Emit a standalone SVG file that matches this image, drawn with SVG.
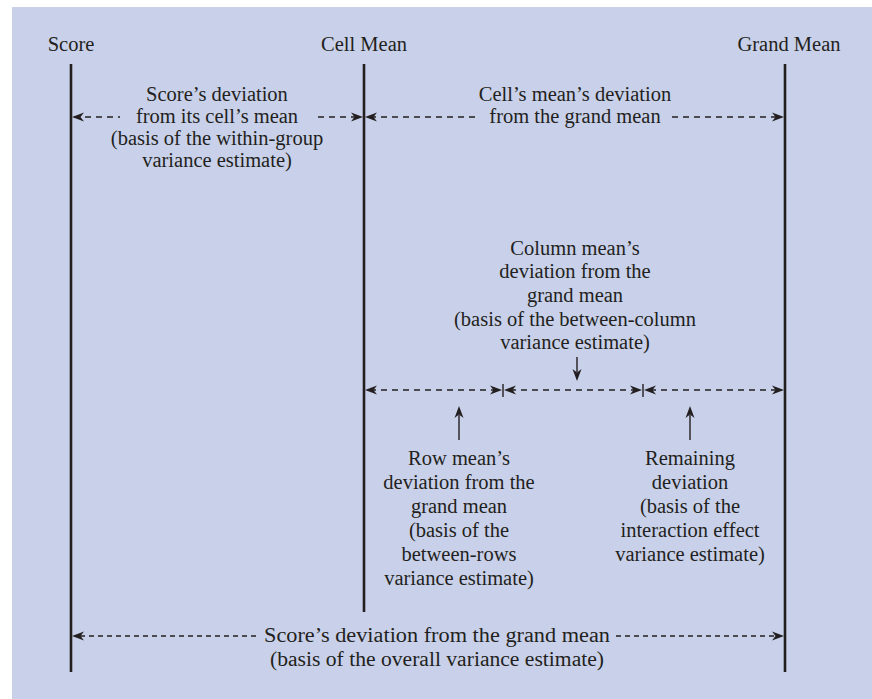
<svg xmlns="http://www.w3.org/2000/svg" xmlns:xlink="http://www.w3.org/1999/xlink" width="872" height="699" viewBox="0 0 872 699">
  <style>
    text { font-family: "Liberation Serif", "Times New Roman", serif; font-size: 20.5px; fill: #231f20; text-anchor: middle; }
    .axis { stroke: #231f20; stroke-width: 2.6; fill: none; }
    .dash { stroke: #231f20; stroke-width: 1.3; stroke-dasharray: 6 5; fill: none; }
    .fine { stroke-dasharray: 5 4; }
    .solid { stroke: #231f20; stroke-width: 1.4; fill: none; }
    .tick { stroke: #231f20; stroke-width: 1.4; }
    .head { fill: #231f20; }
  </style>
  <defs>
    <!-- barbed arrowhead, tip at origin, pointing to +x -->
    <path id="ah" class="head" d="M0,0 L-12,-4.5 L-8.5,0 L-12,4.5 Z"/>
  </defs>

  <!-- panel background -->
  <rect x="0" y="0" width="872" height="699" fill="#ffffff"/>
  <rect x="12" y="7" width="860" height="692" fill="#c9d1ea"/>

  <!-- vertical reference lines -->
  <g id="score">
    <text x="71" y="51">Score</text>
    <line class="axis" x1="71" y1="64" x2="71" y2="672"/>
  </g>
  <g id="cell-mean">
    <text x="364" y="51">Cell Mean</text>
    <line class="axis" x1="364" y1="64" x2="364" y2="612"/>
  </g>
  <g id="grand-mean">
    <text x="789" y="51">Grand Mean</text>
    <line class="axis" x1="785" y1="64" x2="785" y2="672"/>
  </g>

  <!-- labels -->
  <g id="within-label">
    <text x="217" y="101">Score’s deviation</text>
    <text x="217" y="123">from its cell’s mean</text>
    <text x="217" y="145">(basis of the within-group</text>
    <text x="217" y="167">variance estimate)</text>
  </g>
  <g id="cell-grand-label">
    <text x="575" y="101">Cell’s mean’s deviation</text>
    <text x="575" y="123">from the grand mean</text>
  </g>
  <g id="column-label">
    <text x="575" y="255">Column mean’s</text>
    <text x="575" y="278">deviation from the</text>
    <text x="575" y="302">grand mean</text>
    <text x="575" y="326">(basis of the between-column</text>
    <text x="575" y="349">variance estimate)</text>
  </g>
  <g id="row-label">
    <text x="459" y="465">Row mean’s</text>
    <text x="459" y="489">deviation from the</text>
    <text x="459" y="513">grand mean</text>
    <text x="459" y="537">(basis of the</text>
    <text x="459" y="561">between-rows</text>
    <text x="459" y="585">variance estimate)</text>
  </g>
  <g id="remaining-label">
    <text x="690" y="465">Remaining</text>
    <text x="690" y="489">deviation</text>
    <text x="690" y="513">(basis of the</text>
    <text x="690" y="537">interaction effect</text>
    <text x="690" y="561">variance estimate)</text>
  </g>
  <g id="total-label">
    <text x="437" y="642" textLength="346" lengthAdjust="spacingAndGlyphs">Score’s deviation from the grand mean</text>
    <text x="437" y="666" textLength="334" lengthAdjust="spacingAndGlyphs">(basis of the overall variance estimate)</text>
  </g>

  <!-- connectors -->
  <g id="connectors">
    <!-- score to cell mean -->
    <line class="dash" x1="74" y1="117" x2="120" y2="117"/>
    <line class="dash" x1="318" y1="117" x2="356" y2="117"/>
    <use xlink:href="#ah" transform="translate(72,117) scale(-1,1)"/>
    <use xlink:href="#ah" transform="translate(363,117)"/>

    <!-- cell mean to grand mean -->
    <line class="dash" x1="370" y1="117" x2="479" y2="117"/>
    <line class="dash" x1="672" y1="117" x2="778" y2="117"/>
    <use xlink:href="#ah" transform="translate(365,117) scale(-1,1)"/>
    <use xlink:href="#ah" transform="translate(784,117)"/>

    <!-- split of the cell-to-grand deviation -->
    <line class="dash" x1="370" y1="390" x2="496" y2="390"/>
    <line class="dash" x1="510" y1="390" x2="636" y2="390"/>
    <line class="dash" x1="650" y1="390" x2="778" y2="390"/>
    <line class="tick" x1="503" y1="384" x2="503" y2="397"/>
    <line class="tick" x1="643" y1="384" x2="643" y2="397"/>
    <use xlink:href="#ah" transform="translate(365,390) scale(-1,1)"/>
    <use xlink:href="#ah" transform="translate(502,390)"/>
    <use xlink:href="#ah" transform="translate(504,390) scale(-1,1)"/>
    <use xlink:href="#ah" transform="translate(642,390)"/>
    <use xlink:href="#ah" transform="translate(644,390) scale(-1,1)"/>
    <use xlink:href="#ah" transform="translate(784,390)"/>

    <!-- pointers to the three parts -->
    <line class="solid" x1="577" y1="357" x2="577" y2="372"/>
    <use xlink:href="#ah" transform="translate(577,381) rotate(90)"/>
    <line class="solid" x1="459" y1="440" x2="459" y2="415"/>
    <use xlink:href="#ah" transform="translate(459,406) rotate(-90)"/>
    <line class="solid" x1="690" y1="440" x2="690" y2="415"/>
    <use xlink:href="#ah" transform="translate(690,406) rotate(-90)"/>

    <!-- score to grand mean -->
    <line class="dash fine" x1="80" y1="636" x2="257" y2="636"/>
    <line class="dash fine" x1="616" y1="636" x2="777" y2="636"/>
    <use xlink:href="#ah" transform="translate(72,636) scale(-1,1)"/>
    <use xlink:href="#ah" transform="translate(784,636)"/>
  </g>
</svg>
